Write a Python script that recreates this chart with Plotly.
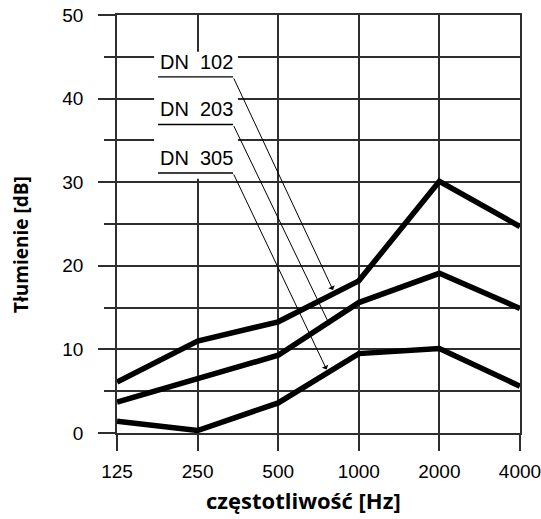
import plotly.graph_objects as go

freq_labels = ["125", "250", "500", "1000", "2000", "4000"]
dn102 = [6.1, 11.0, 13.3, 18.2, 30.1, 24.7]
dn203 = [3.7, 6.5, 9.3, 15.6, 19.1, 14.9]
dn305 = [1.4, 0.3, 3.6, 9.5, 10.1, 5.6]
series_names = ["DN  102", "DN  203", "DN  305"]
label_y = [42.6, 36.9, 31.1]
arrow_tip_x = [2.68, 2.64, 2.60]
arrow_tip_y = [17.1, 12.9, 7.6]

xi = list(range(len(freq_labels)))
fig = go.Figure()
for vals, name in zip([dn102, dn203, dn305], series_names):
    fig.add_trace(go.Scatter(x=xi, y=vals, mode="lines", name=name,
                             line=dict(color="black", width=5.5),
                             showlegend=False, hoverinfo="skip"))

grid_col = "#2e2e2e"
gw = 1.7
tick_font = dict(family="Liberation Sans", size=19, color="black")
fig.update_xaxes(range=[-0.0005, 5.0005], tickvals=xi, ticktext=freq_labels,
                 showgrid=True, gridcolor=grid_col, gridwidth=gw,
                 ticks="outside", ticklen=16, tickwidth=gw, tickcolor=grid_col,
                 showline=True, linecolor=grid_col, linewidth=gw, mirror=True,
                 zeroline=False, ticklabelstandoff=4, ticklabeloverflow="allow",
                 automargin=False, tickfont=tick_font)
fig.update_yaxes(range=[0, 50], tickvals=[0, 10, 20, 30, 40, 50],
                 showgrid=True, gridcolor=grid_col, gridwidth=gw,
                 ticks="outside", ticklen=17, tickwidth=gw, tickcolor=grid_col,
                 minor=dict(tickvals=[5, 15, 25, 35, 45], showgrid=True,
                            gridcolor=grid_col, gridwidth=gw,
                            ticks="outside", ticklen=11, tickwidth=gw, tickcolor=grid_col),
                 showline=True, linecolor=grid_col, linewidth=gw, mirror=True,
                 zeroline=False, ticklabelstandoff=11, automargin=False, tickfont=tick_font)

shapes = [dict(type="rect", xref="x", yref="y", x0=0.46, x1=1.50, y0=30.4, y1=45.6,
               fillcolor="white", line=dict(width=0), layer="between")]
annotations = []
for name, ly, tx, ty in zip(series_names, label_y, arrow_tip_x, arrow_tip_y):
    shapes.append(dict(type="line", xref="x", yref="y", x0=0.509, x1=1.44, y0=ly, y1=ly,
                       line=dict(color="black", width=1.3), layer="above"))
    annotations.append(dict(x=0.509, y=ly + 0.25, xref="x", yref="y", text=name,
                            showarrow=False, xanchor="left", yanchor="bottom",
                            font=dict(family="Liberation Sans", size=20, color="black")))
    annotations.append(dict(x=tx, y=ty, ax=1.44, ay=ly, xref="x", yref="y",
                            axref="x", ayref="y", text="", showarrow=True,
                            arrowhead=1, arrowsize=1.2, arrowwidth=1, arrowcolor="black",
                            standoff=0, startstandoff=0))

W, H = 541, 519
ML, MR, MT, MB = 117, 21, 15, 86
pw, ph = W - ML - MR, H - MT - MB
annotations.append(dict(x=(303 - ML) / pw, y=(H - MB - 500) / ph, xref="paper", yref="paper",
                        text="<b>częstotliwość [Hz]</b>", showarrow=False,
                        xanchor="center", yanchor="middle",
                        font=dict(family="Open Sans", size=22, color="black")))
annotations.append(dict(x=(21 - ML) / pw, y=(H - MB - 245) / ph, xref="paper", yref="paper",
                        text="<b>Tłumienie [dB]</b>", showarrow=False, textangle=-90,
                        xanchor="center", yanchor="middle",
                        font=dict(family="Open Sans", size=19, color="black")))

fig.update_layout(width=W, height=H, margin=dict(l=ML, r=MR, t=MT, b=MB, autoexpand=False),
                  plot_bgcolor="white", paper_bgcolor="white",
                  shapes=shapes, annotations=annotations)
fig.write_html("out.html", config={"displayModeBar": False},
               post_script="document.body.style.margin='0';")
